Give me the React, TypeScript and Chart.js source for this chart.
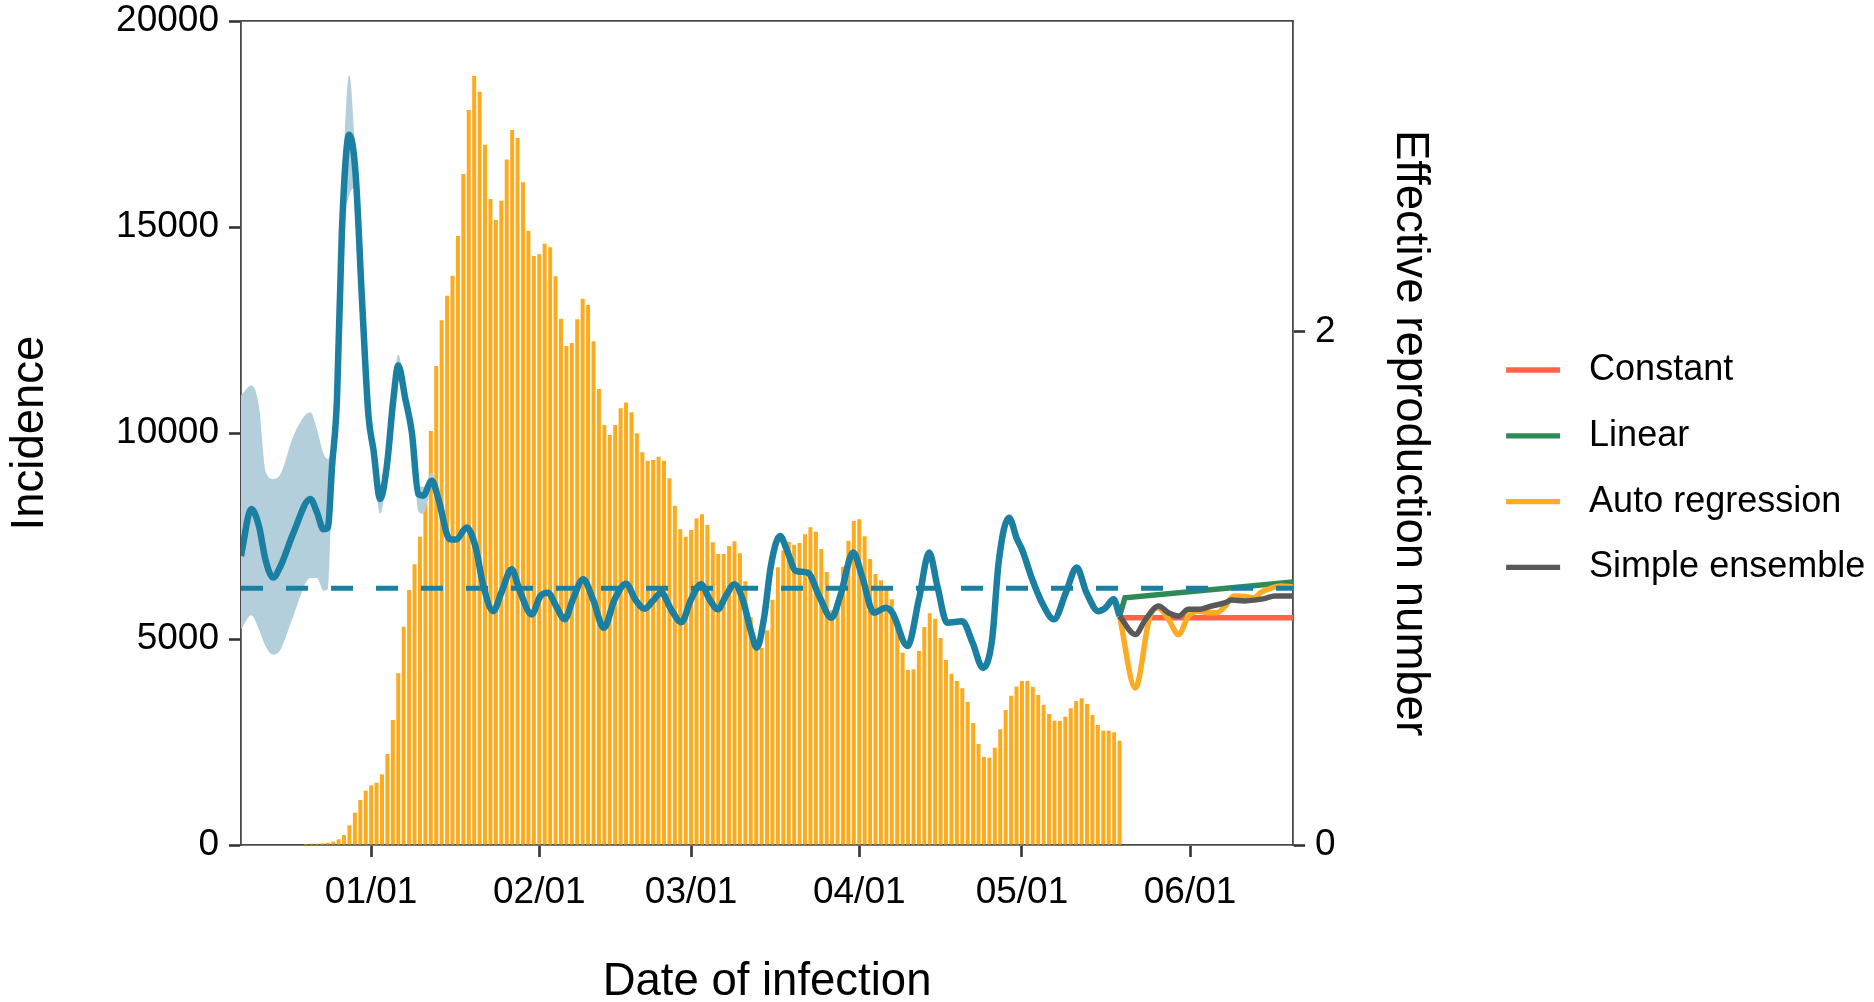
import React, { useEffect, useRef } from "react";
import { Chart, registerables } from "chart.js";

Chart.register(...registerables);

// ---- axis domain (days relative to 2021-01-01) ----
const X_MIN_DAY = -24; // 2020-12-08
const X_MAX_DAY = 170; // 2021-06-20
const xTickDays = [0, 31, 59, 90, 120, 151];
const xTickLabels = ["01/01", "02/01", "03/01", "04/01", "05/01", "06/01"];
const leftTicks = [0, 5000, 10000, 15000, 20000];
const rightTicks = [0, 2];
const INCIDENCE_MAX = 20000;
const RT_MAX = 3.21;
const RT_THRESHOLD = 1;

// ---- daily incidence, first bar on 2020-12-20 ----
const FIRST_BAR_DAY = -12;
const incidence = [
  24, 32, 32, 40, 57, 81, 138, 243, 477, 785, 1092, 1319,
  1448, 1513, 1715, 2209, 3034, 4167, 5298, 6189, 6812, 7483,
  8600, 10048, 11626, 12734, 13333, 13818, 14781, 16286, 17839, 18665,
  18284, 16998, 15679, 15170, 15639, 16641, 17354, 17160, 16084, 14910,
  14296, 14336, 14595, 14506, 13802, 12775, 12111, 12183, 12758, 13260,
  13106, 12225, 11067, 10193, 9951, 10193, 10598, 10743, 10501, 9992,
  9530, 9327, 9344, 9424, 9327, 8899, 8235, 7662, 7483, 7645,
  7929, 8026, 7766, 7346, 7063, 7063, 7257, 7371, 7080, 6400,
  5530, 4950, 4789, 5210, 5953, 6739, 7150, 7362, 7289, 7330,
  7540, 7710, 7604, 7184, 6626, 5700, 5950, 6755, 7386, 7864,
  7904, 7492, 6941, 6577, 6428, 6240, 5963, 5300, 4667, 4247,
  4264, 4708, 5291, 5623, 5493, 5024, 4490, 4158, 3980, 3803,
  3471, 2961, 2451, 2136, 2119, 2362, 2808, 3276, 3624, 3850,
  3980, 3980, 3842, 3641, 3398, 3180, 3017, 3010, 3114, 3317,
  3495, 3560, 3422, 3155, 2912, 2775, 2775, 2735, 2532,
];

// ---- effective reproduction number (median) ----
const rtDays = [
  -24, -22.1, -20.7, -19.5, -18.1, -16.7, -14.3, -11.2, -10.0, -8.8, -8.0, -7.2,
  -6.3, -5.4, -4.05, -2.9, -1.7, -0.5, 0.4, 1.66, 2.9, 4.1, 5.0, 6.3, 7.5, 8.7,
  9.6, 11.2, 12.4, 14.5, 15.7, 17.6, 19.2, 20.7, 22.5, 24.0, 25.9, 27.4, 29.6,
  31.2, 32.6, 34.1, 35.7, 37.2, 39.1, 40.9, 42.9, 44.9, 47.0, 48.7, 50.4, 51.9,
  53.5, 55.3, 57.2, 59.0, 60.8, 62.4, 63.9, 65.4, 67.0, 68.5, 70.1, 71.1, 72.5,
  73.7, 75.4, 76.6, 78.3, 80.5, 82.6, 84.9, 86.5, 88.9, 90.5, 92.7, 94.9, 96.1,
  98.9, 101.0, 102.9, 104.4, 106.2, 109.0, 110.9, 112.8, 114.5, 115.7, 117.6,
  119.1, 120.0, 121.9, 123.7, 125.9, 128.1, 130.1, 131.9, 134.1, 135.4, 136.9, 138,
];
const rtValues = [
  1.126, 1.309, 1.243, 1.113, 1.042, 1.087, 1.218, 1.348, 1.296, 1.23, 1.235, 1.478,
  1.738, 2.39, 2.767, 2.624, 2.129, 1.673, 1.543, 1.348, 1.478, 1.738, 1.868, 1.738, 1.608, 1.367,
  1.361, 1.419, 1.348, 1.191, 1.19, 1.237, 1.165, 1.009, 0.911, 0.983, 1.074, 0.99, 0.898,
  0.97, 0.983, 0.931, 0.879, 0.957, 1.035, 0.957, 0.846, 0.957, 1.018, 0.957, 0.92, 0.95,
  0.983, 0.918, 0.868, 0.957, 1.016, 0.957, 0.918, 0.97, 1.016, 0.957, 0.827, 0.768, 0.892,
  1.087, 1.204, 1.152, 1.068, 1.061, 0.97, 0.885, 0.97, 1.139, 1.048, 0.905, 0.924, 0.905,
  0.775, 0.957, 1.139, 1.009, 0.866, 0.872, 0.788, 0.69, 0.801, 1.1, 1.275,
  1.191, 1.152, 1.035, 0.944, 0.879, 0.983, 1.081, 0.983, 0.911, 0.924, 0.957, 0.892,
];

// ---- credible interval of Rt ----
const ribbonDays = [
  -24, -22.1, -20.7, -19.5, -18.1, -16.7, -14.3, -11.2, -10.0, -8.8, -8.0, -7.2,
  -6.3, -5.4, -4.05, -2.9, -1.7, -0.5, 0.4, 1.66, 2.9, 4.1, 5.0, 6.3, 7.5, 8.7,
  9.6, 11.2, 12.4,
];
const ribbonLow = [
  0.84, 0.895, 0.84, 0.775, 0.742, 0.762, 0.895, 1.04, 1.04, 0.99, 0.996, 1.4,
  1.68, 2.31, 2.53, 2.56, 2.09, 1.64, 1.51, 1.29, 1.44, 1.7, 1.83, 1.7, 1.575, 1.3,
  1.29, 1.39, 1.32,
];
const ribbonHigh = [
  1.751, 1.79, 1.712, 1.458, 1.426, 1.445, 1.595, 1.686, 1.62, 1.525, 1.504, 1.56,
  1.8, 2.48, 3.0, 2.69, 2.17, 1.71, 1.575, 1.38, 1.51, 1.78, 1.91, 1.77, 1.64, 1.4,
  1.395, 1.45, 1.37,
];

// ---- Rt forecasts ----
const forecastNames = ["Constant", "Linear", "Auto regression", "Simple ensemble"];
const forecastColors = ["#ff6347", "#2e8b57", "#fdab22", "#595959"];
const constantDays = [138, 170];
const constantValues = [0.885, 0.885];
const linearDays = [138, 139, 170];
const linearValues = [0.892, 0.963, 1.025];
const autoRegDays = [
  138, 140.9, 143.6, 145.1, 147, 148.9, 150.7, 152.5, 154.3, 156, 157.5, 159.1,
  161.2, 162.8, 164.0, 166.2, 167.7, 170,
];
const autoRegValues = [
  0.892, 0.612, 0.892, 0.924, 0.879, 0.82, 0.892, 0.911, 0.905, 0.905, 0.931, 0.97,
  0.968, 0.963, 0.983, 1.003, 1.009, 1.005,
];
const ensembleDays = [
  138, 140.9, 142.8, 145.2, 147, 148.9, 150.7, 152.5, 155, 157.5, 158.6, 161.1,
  162.9, 164.7, 166.6, 170,
];
const ensembleValues = [
  0.892, 0.82, 0.879, 0.931, 0.905, 0.892, 0.918, 0.918, 0.931, 0.944, 0.954, 0.951,
  0.954, 0.96, 0.97, 0.97,
];

const BAR_COLOR = "#fdab1e";
const RT_COLOR = "#1a7fa0";
const RIBBON_COLOR = "#b3cfdb";
const FONT = "'Liberation Sans', Arial, Helvetica, sans-serif";

const pts = (xs: number[], ys: number[]) => xs.map((x, i) => ({ x, y: ys[i] }));

const legendPlugin = {
  id: "forecastLegend",
  afterDraw(chart: any) {
    const { ctx, chartArea } = chart;
    ctx.save();
    ctx.font = `36px ${FONT}`;
    ctx.textBaseline = "middle";
    ctx.textAlign = "left";
    forecastNames.forEach((name, i) => {
      const y = 370 + i * 65.8;
      ctx.strokeStyle = forecastColors[i];
      ctx.lineWidth = 5.3;
      ctx.lineCap = "butt";
      ctx.beginPath();
      ctx.moveTo(chartArea.right + 213, y);
      ctx.lineTo(chartArea.right + 267, y);
      ctx.stroke();
      ctx.fillStyle = "#000";
      ctx.fillText(name, chartArea.right + 296, y);
    });
    ctx.restore();
  },
};

const gridOpts = {
  display: true,
  offset: false,
  drawOnChartArea: false,
  drawTicks: true,
  tickLength: 12,
  tickWidth: 2.6,
  tickColor: "#333",
};
const borderOpts = { display: true, color: "#4a4a4a", width: 1.8 };

const zeroPad = (s: any) => {
  s.paddingTop = 0;
  s.paddingBottom = 0;
  s.paddingLeft = 0;
  s.paddingRight = 0;
};

export default function App() {
  const ref = useRef<HTMLCanvasElement | null>(null);

  useEffect(() => {
    if (!ref.current) return;
    Chart.defaults.font.family = FONT;
    Chart.defaults.color = "#000";

    const chart = new Chart(ref.current, {
      type: "line",
      data: {
        datasets: [
          {
            type: "line",
            label: "threshold",
            data: pts([X_MIN_DAY, X_MAX_DAY], [RT_THRESHOLD, RT_THRESHOLD]),
            yAxisID: "yR",
            borderColor: RT_COLOR,
            borderWidth: 5,
            borderDash: [22, 23],
            pointRadius: 0,
            tension: 0,
            order: 0,
          },
          {
            type: "line",
            label: "Rt",
            data: pts(rtDays, rtValues),
            yAxisID: "yR",
            borderColor: RT_COLOR,
            borderWidth: 6.5,
            borderJoinStyle: "round",
            pointRadius: 0,
            cubicInterpolationMode: "monotone",
            order: 1,
          },
          {
            type: "line",
            label: forecastNames[3],
            data: pts(ensembleDays, ensembleValues),
            yAxisID: "yR",
            borderColor: forecastColors[3],
            borderWidth: 5.5,
            pointRadius: 0,
            cubicInterpolationMode: "monotone",
            order: 2,
          },
          {
            type: "line",
            label: forecastNames[2],
            data: pts(autoRegDays, autoRegValues),
            yAxisID: "yR",
            borderColor: forecastColors[2],
            borderWidth: 5.5,
            pointRadius: 0,
            cubicInterpolationMode: "monotone",
            order: 3,
          },
          {
            type: "line",
            label: forecastNames[1],
            data: pts(linearDays, linearValues),
            yAxisID: "yR",
            borderColor: forecastColors[1],
            borderWidth: 5.5,
            pointRadius: 0,
            tension: 0,
            order: 4,
          },
          {
            type: "line",
            label: forecastNames[0],
            data: pts(constantDays, constantValues),
            yAxisID: "yR",
            borderColor: forecastColors[0],
            borderWidth: 5.5,
            pointRadius: 0,
            tension: 0,
            order: 5,
          },
          {
            type: "line",
            label: "ribbonHigh",
            data: pts(ribbonDays, ribbonHigh),
            yAxisID: "yR",
            borderWidth: 0,
            borderColor: "rgba(0,0,0,0)",
            backgroundColor: RIBBON_COLOR,
            fill: "+1",
            pointRadius: 0,
            cubicInterpolationMode: "monotone",
            order: 8,
          },
          {
            type: "line",
            label: "ribbonLow",
            data: pts(ribbonDays, ribbonLow),
            yAxisID: "yR",
            borderWidth: 0,
            borderColor: "rgba(0,0,0,0)",
            pointRadius: 0,
            fill: false,
            cubicInterpolationMode: "monotone",
            order: 8,
          },
          {
            type: "bar",
            label: "Incidence",
            data: incidence.map((v, i) => ({ x: FIRST_BAR_DAY + i, y: v })),
            yAxisID: "y",
            backgroundColor: BAR_COLOR,
            borderWidth: 0,
            barPercentage: 0.74,
            categoryPercentage: 1,
            order: 10,
          } as any,
        ],
      },
      options: {
        animation: false,
        responsive: true,
        maintainAspectRatio: false,
        layout: { padding: { top: 21, left: 0, right: 437.6, bottom: 0 } },
        plugins: {
          legend: { display: false },
          tooltip: { enabled: false },
        },
        scales: {
          x: {
            type: "linear",
            position: "bottom",
            min: X_MIN_DAY,
            max: X_MAX_DAY,
            offset: false,
            afterBuildTicks: (s: any) => {
              s.ticks = xTickDays.map((v) => ({ value: v }));
            },
            afterFit: (s: any) => {
              s.height = 157;
              zeroPad(s);
            },
            ticks: {
              callback: (_v: any, i: number) => xTickLabels[i],
              autoSkip: false,
              maxRotation: 0,
              minRotation: 0,
              padding: 14,
              color: "#000",
              font: { size: 37 },
            },
            grid: gridOpts,
            border: borderOpts,
            title: {
              display: true,
              text: "Date of infection",
              color: "#000",
              font: { size: 45.5 },
              padding: { top: 0, bottom: -8 },
            },
          },
          xTop: {
            type: "linear",
            position: "top",
            min: X_MIN_DAY,
            max: X_MAX_DAY,
            ticks: { display: false },
            grid: { display: true, offset: false, drawOnChartArea: false, drawTicks: false },
            border: borderOpts,
            afterFit: (s: any) => {
              s.height = 0;
              zeroPad(s);
            },
          },
          y: {
            type: "linear",
            position: "left",
            min: 0,
            max: INCIDENCE_MAX,
            afterBuildTicks: (s: any) => {
              s.ticks = leftTicks.map((v) => ({ value: v }));
            },
            afterFit: (s: any) => {
              s.width = 241;
              zeroPad(s);
            },
            ticks: {
              callback: (v: any) => String(v),
              padding: 10,
              color: "#000",
              font: { size: 37 },
            },
            grid: gridOpts,
            border: borderOpts,
            title: {
              display: true,
              text: "Incidence",
              color: "#000",
              font: { size: 45.5 },
              padding: { top: 2.7, bottom: 0 },
            },
          },
          yR: {
            type: "linear",
            position: "right",
            min: 0,
            max: RT_MAX,
            afterBuildTicks: (s: any) => {
              s.ticks = rightTicks.map((v) => ({ value: v }));
            },
            afterFit: (s: any) => {
              s.width = 143.3;
              zeroPad(s);
            },
            ticks: {
              callback: (v: any) => String(v),
              padding: 10,
              color: "#000",
              font: { size: 37 },
            },
            grid: gridOpts,
            border: borderOpts,
            title: {
              display: true,
              text: "Effective reproduction number",
              color: "#000",
              font: { size: 45.5 },
              padding: { top: 0, bottom: 0 },
            },
          },
        },
      } as any,
      plugins: [legendPlugin],
    });

    return () => chart.destroy();
  }, []);

  return (
    <div style={{ position: "fixed", left: 0, top: 0, width: 1874, height: 1002, background: "#fff" }}>
      <canvas ref={ref} />
    </div>
  );
}
